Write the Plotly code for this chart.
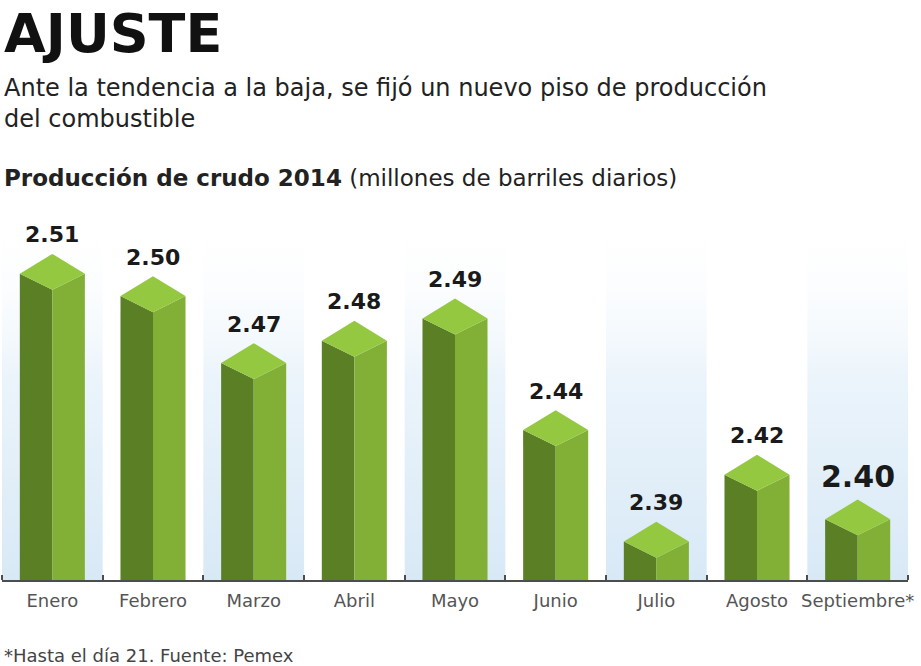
import plotly.graph_objects as go

# ---- data ----
months = ["Enero", "Febrero", "Marzo", "Abril", "Mayo", "Junio", "Julio", "Agosto", "Septiembre*"]
production = [2.51, 2.50, 2.47, 2.48, 2.49, 2.44, 2.39, 2.42, 2.40]
value_labels = ["2.51", "2.50", "2.47", "2.48", "2.49", "2.44", "2.39", "2.42", "2.40"]
striped = [True, False, True, False, True, False, True, False, True]

title = "AJUSTE"
subtitle = "Ante la tendencia a la baja, se fijó un nuevo piso de producción<br>del combustible"
chart_label = "<b>Producción de crudo 2014</b> (millones de barriles diarios)"
footnote = "*Hasta el día 21. Fuente: Pemex"

# ---- style / geometry ----
W, H = 921, 666
ML, MR, MT, MB = 2, 13, 205, 86
Y0, Y1 = 2.38, 2.548
HW = 0.323            # half width of bar (x units)
D_SIDE = 0.0072       # side vertices of top rhombus above front vertex
D_TOP = 0.0161        # top vertex above front vertex
STRIPE_TOP = 2.544

C_LEFT = "#5b7f25"
C_RIGHT = "#82af35"
C_TOP = "#94c841"
FONT = "DejaVu Sans"

fig = go.Figure()

# background stripes
for i, s in enumerate(striped):
    if not s:
        continue
    fig.add_trace(go.Scatter(
        x=[i - 0.5, i + 0.5, i + 0.5, i - 0.5, i - 0.5],
        y=[Y0, Y0, STRIPE_TOP, STRIPE_TOP, Y0],
        mode="lines", line=dict(width=0), fill="toself",
        fillgradient=dict(type="vertical",
                          colorscale=[[0, "#d8e9f6"], [0.55, "#ebf4fb"], [1, "rgba(255,255,255,0)"]]),
        hoverinfo="skip", showlegend=False))

# 3D bars
for i, v in enumerate(production):
    # left face (dark)
    fig.add_trace(go.Scatter(
        x=[i - HW, i, i, i - HW, i - HW],
        y=[v + D_SIDE, v, Y0, Y0, v + D_SIDE],
        mode="lines", line=dict(width=0, color=C_LEFT), fill="toself", fillcolor=C_LEFT,
        hoverinfo="skip", showlegend=False))
    # right face
    fig.add_trace(go.Scatter(
        x=[i, i + HW, i + HW, i, i],
        y=[v, v + D_SIDE, Y0, Y0, v],
        mode="lines", line=dict(width=0, color=C_RIGHT), fill="toself", fillcolor=C_RIGHT,
        hoverinfo="skip", showlegend=False))
    # top rhombus
    fig.add_trace(go.Scatter(
        x=[i - HW, i, i + HW, i, i - HW],
        y=[v + D_SIDE, v + D_TOP, v + D_SIDE, v, v + D_SIDE],
        mode="lines", line=dict(width=0, color=C_TOP), fill="toself", fillcolor=C_TOP,
        hovertemplate=f"{months[i]}: {v:.2f}<extra></extra>", showlegend=False))

annotations = []
for i, (v, lab) in enumerate(zip(production, value_labels)):
    big = (i == len(production) - 1)
    annotations.append(dict(
        x=i, y=v + D_TOP, xref="x", yref="y", text=f"<b>{lab}</b>", showarrow=False,
        xanchor="center", yanchor="middle", yshift=23 if big else 19,
        font=dict(family=FONT, size=30 if big else 22, color="#1a1a1a")))

def py(pix):
    return (H - MB - pix) / (H - MT - MB)

annotations += [
    dict(text=f"<b>{title}</b>", x=0, y=py(33), xref="paper", yref="paper",
         xanchor="left", yanchor="middle", showarrow=False,
         font=dict(family=FONT, size=54, color="#111111")),
    dict(text=subtitle, x=0, y=py(104), xref="paper", yref="paper", align="left",
         xanchor="left", yanchor="middle", showarrow=False,
         font=dict(family=FONT, size=24, color="#222222")),
    dict(text=chart_label, x=0, y=py(178), xref="paper", yref="paper",
         xanchor="left", yanchor="middle", showarrow=False,
         font=dict(family=FONT, size=23, color="#222222")),
    dict(text=footnote, x=0, y=py(655), xref="paper", yref="paper",
         xanchor="left", yanchor="middle", showarrow=False,
         font=dict(family=FONT, size=18, color="#444444")),
]

fig.update_layout(
    width=W, height=H,
    margin=dict(l=ML, r=MR, t=MT, b=MB),
    paper_bgcolor="white", plot_bgcolor="white",
    showlegend=False,
    annotations=annotations,
    xaxis=dict(range=[-0.5, len(months) - 0.5], tickmode="array",
               tickvals=list(range(len(months))), ticktext=months,
               tickfont=dict(family=FONT, size=18, color="#555555"),
               showgrid=False, zeroline=False, showline=True,
               linecolor="#4d4d4d", linewidth=2, ticks="outside", ticklen=3, tickcolor="rgba(0,0,0,0)",
               minor=dict(tickmode="array",
                          tickvals=[k - 0.5 for k in range(len(months) + 1)],
                          ticks="inside", ticklen=5, tickwidth=2, tickcolor="#4d4d4d"),
               fixedrange=True),
    yaxis=dict(range=[Y0, Y1], visible=False, showgrid=False, zeroline=False, fixedrange=True),
)

fig.write_html("out.html", config={"displayModeBar": False},
               post_script="document.body.style.margin='0';document.body.style.overflow='hidden';")
